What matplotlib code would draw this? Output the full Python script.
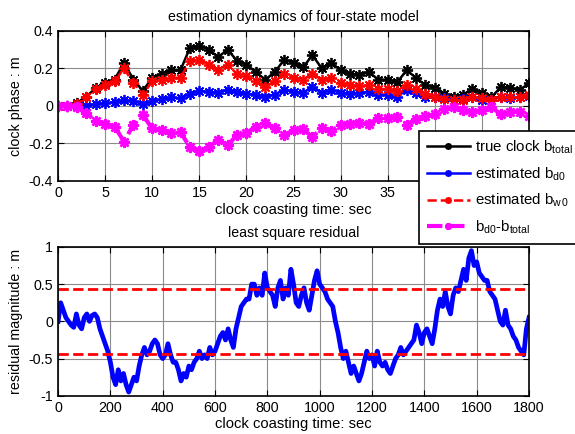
import numpy as np
import matplotlib
matplotlib.use('Agg')
import matplotlib.pyplot as plt

plt.rcParams['font.family'] = 'Liberation Sans'
plt.rcParams['mathtext.default'] = 'regular'
plt.rcParams['axes.unicode_minus'] = False

# clock estimates, one sample per second
t_clock = np.arange(51)
b_total = [0.0, 0.0, 0.015, 0.05, 0.095, 0.12, 0.14, 0.23, 0.14, 0.08,
           0.15, 0.17, 0.19, 0.19, 0.31, 0.32, 0.30, 0.26, 0.30, 0.24,
           0.22, 0.18, 0.14, 0.18, 0.245, 0.23, 0.205, 0.27, 0.20, 0.23,
           0.19, 0.17, 0.165, 0.18, 0.14, 0.14, 0.125, 0.19, 0.15, 0.11,
           0.095, 0.065, 0.045, 0.06, 0.09, 0.07, 0.045, 0.10, 0.095, 0.085,
           0.12]
b_d0 = [0.0, 0.0, 0.0, 0.0, 0.01, 0.015, 0.02, 0.03, 0.025, 0.01,
        0.025, 0.035, 0.045, 0.04, 0.065, 0.08, 0.075, 0.07, 0.085, 0.075,
        0.065, 0.06, 0.05, 0.06, 0.085, 0.075, 0.07, 0.10, 0.07, 0.085,
        0.07, 0.065, 0.07, 0.075, 0.06, 0.06, 0.05, 0.085, 0.07, 0.045,
        0.05, 0.04, 0.03, 0.035, 0.045, 0.03, 0.03, 0.05, 0.04, 0.045,
        0.055]
b_w0 = [0.0, 0.0, 0.01, 0.05, 0.09, 0.11, 0.13, 0.20, 0.12, 0.06,
        0.13, 0.14, 0.15, 0.15, 0.24, 0.245, 0.22, 0.19, 0.22, 0.17,
        0.16, 0.13, 0.10, 0.13, 0.17, 0.15, 0.14, 0.17, 0.14, 0.15,
        0.12, 0.11, 0.105, 0.11, 0.09, 0.09, 0.08, 0.11, 0.09, 0.065,
        0.05, 0.035, 0.03, 0.03, 0.05, 0.04, 0.03, 0.05, 0.045, 0.045,
        0.06]
b_diff = [0.0, 0.0, -0.005, -0.04, -0.08, -0.095, -0.11, -0.19, -0.10, -0.05,
          -0.12, -0.13, -0.145, -0.14, -0.22, -0.24, -0.22, -0.18, -0.21, -0.155,
          -0.145, -0.11, -0.09, -0.12, -0.155, -0.13, -0.125, -0.165, -0.12, -0.135,
          -0.10, -0.095, -0.09, -0.095, -0.065, -0.065, -0.06, -0.10, -0.07, -0.055,
          -0.045, -0.015, -0.005, -0.02, -0.035, -0.02, -0.005, -0.045, -0.035, -0.03,
          -0.055]

# least square residual, every 10 s
t_res = np.arange(0, 1801, 10)
residual = [0.0, 0.25, 0.15, 0.05, 0.0, -0.05, -0.08, 0.1, -0.05, -0.1,
            0.05, 0.1, 0.0, 0.08, 0.1, 0.05, -0.1, -0.2, -0.3, -0.4,
            -0.55, -0.75, -0.85, -0.65, -0.8, -0.7, -0.85, -0.95, -0.85, -0.75,
            -0.8, -0.6, -0.45, -0.35, -0.45, -0.4, -0.3, -0.25, -0.3, -0.45,
            -0.5, -0.45, -0.3, -0.45, -0.55, -0.55, -0.65, -0.8, -0.7, -0.75,
            -0.6, -0.65, -0.55, -0.5, -0.4, -0.5, -0.45, -0.5, -0.35, -0.45,
            -0.4, -0.3, -0.2, -0.15, -0.25, -0.1, -0.25, -0.35, -0.1, 0.05,
            0.2, 0.25, 0.3, 0.3, 0.5, 0.5, 0.35, 0.45, 0.35, 0.65,
            0.45, 0.4, 0.35, 0.2, 0.45, 0.55, 0.3, 0.45, 0.35, 0.7,
            0.5, 0.25, 0.2, 0.35, 0.45, 0.25, 0.15, 0.35, 0.55, 0.68,
            0.5, 0.45, 0.4, 0.3, 0.25, 0.2, 0.0, -0.15, -0.35, -0.5,
            -0.4, -0.55, -0.7, -0.6, -0.7, -0.8, -0.7, -0.55, -0.4, -0.5,
            -0.45, -0.6, -0.4, -0.55, -0.6, -0.55, -0.65, -0.7, -0.6, -0.5,
            -0.45, -0.35, -0.45, -0.4, -0.35, -0.3, -0.25, -0.05, -0.15, -0.3,
            -0.15, -0.1, -0.2, -0.3, -0.1, 0.15, 0.3, 0.2, 0.4, 0.2,
            0.1, 0.35, 0.45, 0.4, 0.55, 0.7, 0.55, 0.85, 0.95, 0.75,
            0.8, 0.65, 0.6, 0.55, 0.55, 0.4, 0.35, 0.3, 0.15, 0.0,
            -0.05, 0.15, -0.05, -0.1, -0.2, -0.25, -0.35, -0.4, -0.45, -0.1,
            0.05]
res_bound = 0.44

fig = plt.figure(figsize=(5.75, 4.34), dpi=100)
ax1 = fig.add_axes([0.101, 0.583, 0.819, 0.346])
ax2 = fig.add_axes([0.101, 0.088, 0.819, 0.343])

star = (8, 2, 0)
l1, = ax1.plot(t_clock, b_total, color='k', lw=1.8, marker=star, ms=8, mew=1.3)
l2, = ax1.plot(t_clock, b_d0, color='#0000ff', lw=1.8, marker=star, ms=8, mew=1.3)
l3, = ax1.plot(t_clock, b_w0, color='#ff0000', lw=1.8, ls='--', marker=star, ms=8, mew=1.3)
l4, = ax1.plot(t_clock, b_diff, color='#ff00ff', lw=3, ls='--', marker=star, ms=8, mew=1.8)

ax1.set_xlim(0, 50)
ax1.set_ylim(-0.4, 0.4)
ax1.set_xticks(np.arange(0, 51, 5))
ax1.set_yticks([-0.4, -0.2, 0, 0.2, 0.4])
ax1.set_yticklabels(['-0.4', '-0.2', '0', '0.2', '0.4'])
ax1.set_title('estimation dynamics of four-state model', fontsize=10.2, pad=7)
ax1.set_xlabel('clock coasting time: sec', fontsize=10.6, labelpad=2)
ax1.set_ylabel('clock phase : m', fontsize=10.3)

ax2.plot(t_res, residual, color='#0000ff', lw=3.4)
ax2.axhline(res_bound, color='#ff0000', lw=2, ls='--')
ax2.axhline(-res_bound, color='#ff0000', lw=2, ls='--')
ax2.set_xlim(0, 1800)
ax2.set_ylim(-1, 1)
ax2.set_xticks(np.arange(0, 1801, 200))
ax2.set_yticks([-1, -0.5, 0, 0.5, 1])
ax2.set_yticklabels(['-1', '-0.5', '0', '0.5', '1'])
ax2.set_title('least square residual', fontsize=10.2, pad=7)
ax2.set_xlabel('clock coasting time: sec', fontsize=10.6, labelpad=2)
ax2.set_ylabel('residual magnitude : m', fontsize=10.3)

for ax in (ax1, ax2):
    ax.grid(True, color='#8c8c8c', lw=0.8)
    ax.set_axisbelow(True)
    ax.tick_params(direction='in', top=True, right=True, length=4, labelsize=10.3)
    for s in ax.spines.values():
        s.set_linewidth(1.2)

leg = fig.legend([l1, l2, l3, l4],
                 ['true clock b$_{total}$', 'estimated b$_{d0}$',
                  'estimated b$_{w\\,0}$', 'b$_{d0}$-b$_{total}$'],
                 loc='upper left', bbox_to_anchor=(0.729, 0.698),
                 borderaxespad=0, fontsize=10.8, handlelength=2.9,
                 handletextpad=0.3, labelspacing=0.62, borderpad=0.5,
                 fancybox=False, framealpha=1, edgecolor='k', markerscale=0.6)
leg.get_frame().set_linewidth(1.2)

fig.savefig('out.png', dpi=100)
